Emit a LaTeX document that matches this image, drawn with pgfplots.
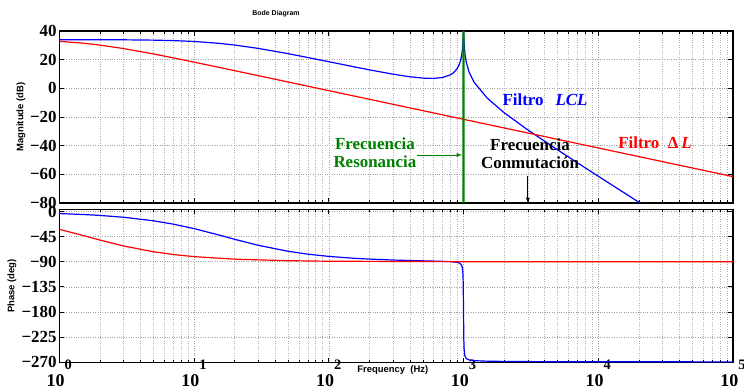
\documentclass[border=0pt]{standalone}
\usepackage{pgfplots}
\usepackage{pgfplotstable}
\pgfplotsset{compat=1.18}
\usepackage{fontspec}
\setmainfont{Liberation Serif}
\newfontfamily\lsans{Liberation Sans}
\definecolor{mgreen}{rgb}{0,0.5,0}

\pgfplotstableread{
f mag phase
1 33.96 -3.36
1.5 33.95 -5.04
2 33.92 -6.70
3 33.85 -10.00
5 33.62 -16.37
7 33.30 -22.36
10 32.69 -30.43
15 31.48 -41.38
20 30.21 -49.62
30 27.85 -60.45
50 24.17 -71.22
70 21.49 -76.37
100 18.57 -80.39
150 15.22 -83.60
200 12.90 -85.24
300 9.86 -86.91
400 8.07 -87.80
500 7.12 -88.38
600 6.91 -88.83
700 7.55 -89.28
800 9.41 -89.86
850 11.15 -90.35
900 13.94 -91.23
930 16.61 -92.31
950 19.25 -93.72
970 23.37 -96.96
980 26.66 -100.94
990 32.05 -112.11
995 36.38 -129.76
1000 40.00 -180.00
1005 36.09 -228.97
1010 31.67 -246.04
1020 26.07 -256.96
1030 22.54 -260.88
1050 17.92 -264.10
1100 11.31 -266.56
1200 4.14 -267.86
1500 -6.86 -268.76
2000 -16.97 -269.19
3000 -29.01 -269.49
5000 -42.98 -269.70
7000 -51.93 -269.79
10000 -61.31 -269.85
15000 -71.93 -269.90
20000 -79.44 -269.93
30000 -90.02 -269.95
100000 -121.40 -269.99
}\lcldata

\pgfplotstableread{
f mag phase
1 32.80 -31.68
1.5 31.51 -42.80
2 30.18 -50.99
3 27.74 -61.63
5 23.98 -72.05
7 21.26 -76.97
10 18.28 -80.80
20 12.34 -85.37
50 4.41 -88.14
100 -1.61 -89.07
1000 -21.61 -89.91
10000 -41.61 -89.99
100000 -61.61 -90.00
}\dldata

\begin{document}
\begin{tikzpicture}
\useasboundingbox (0,0) rectangle (744bp,391bp);
\node[font=\lsans\bfseries\fontsize{7}{8}\selectfont] at (276bp,377bp) {Bode Diagram};

\begin{axis}[
  xmode=log, scale only axis, width=673.7bp, height=172bp,
  xmin=1, xmax=100000, anchor=south west, at={(59.3bp,188bp)},
  axis line style={line width=1.3pt},
  tick align=inside,
  xtick={1,10,100,1000,10000,100000},
  grid=both,
  major grid style={dotted, gray!75, line width=0.5pt},
  minor grid style={dotted, gray!60, line width=0.5pt},
  major tick length=5bp, minor tick length=3bp,
  tick style={black, line width=0.6pt},
  yticklabel style={font=\fontsize{17}{17}\selectfont\bfseries, anchor=east, inner sep=0pt, xshift=-2.5bp},
  ymin=-80, ymax=40, ytick={-80,-60,-40,-20,0,20,40},
  yticklabels={−80,−60,−40,−20,0,20,40},
  xticklabels={},
  ylabel={Magnitude (dB)},
  ylabel style={font=\lsans\bfseries\fontsize{9.5}{10}\selectfont, at={(axis description cs:-0.0568,0.5)}, anchor=center},
  no markers,
]
\addplot[blue, line width=1.2pt] table[x=f, y=mag] {\lcldata};
\addplot[red, line width=1.2pt] table[x=f, y=mag] {\dldata};
\addplot[draw=none, fill=mgreen, forget plot] coordinates {(981,-80) (1019,-80) (1019,40) (981,40)} \closedcycle;
\node[blue, font=\fontsize{17}{18.5}\selectfont\bfseries] at (axis cs:4027,-8.1) {Filtro\hspace{0.7em}\textit{LCL}};
\node[red, font=\fontsize{17}{18.5}\selectfont\bfseries] at (axis cs:26370,-38.1) {Filtro\hspace{0.5em}Δ\,\textit{L}};
\node[mgreen, font=\fontsize{17}{18.5}\selectfont\bfseries, align=center] at (axis cs:220,-45.1) {Frecuencia\\Resonancia};
\node[black, font=\fontsize{17}{18.5}\selectfont\bfseries, align=center] at (axis cs:3115,-45.8) {Frecuencia\\Conmutación};
\draw[mgreen, line width=0.9pt, -latex] (axis cs:452,-46.5) -- (axis cs:975,-46.5);
\draw[black, line width=0.9pt, -latex] (axis cs:3000,-61.5) -- (axis cs:3000,-80);
\end{axis}

\begin{axis}[
  xmode=log, scale only axis, width=673.7bp, height=153.4bp,
  xmin=1, xmax=100000, anchor=south west, at={(59.3bp,28.3bp)},
  axis line style={line width=1.3pt},
  tick align=inside,
  xtick={1,10,100,1000,10000,100000},
  grid=both,
  major grid style={dotted, gray!75, line width=0.5pt},
  minor grid style={dotted, gray!60, line width=0.5pt},
  major tick length=5bp, minor tick length=3bp,
  tick style={black, line width=0.6pt},
  yticklabel style={font=\fontsize{17}{17}\selectfont\bfseries, anchor=east, inner sep=0pt, xshift=-2.5bp},
  ymin=-271.5, ymax=4.3, ytick={0,-45,-90,-135,-180,-225,-270},
  yticklabels={0,−45,−90,−135,−180,−225,−270},
  xticklabels={
    10\raisebox{0.95em}{\fontsize{14.5}{14.5}\selectfont 0},
    10\raisebox{0.95em}{\fontsize{14.5}{14.5}\selectfont 1},
    10\raisebox{0.95em}{\fontsize{14.5}{14.5}\selectfont 2},
    10\raisebox{0.95em}{\fontsize{14.5}{14.5}\selectfont 3},
    10\raisebox{0.95em}{\fontsize{14.5}{14.5}\selectfont 4},
    10\raisebox{0.95em}{\fontsize{14.5}{14.5}\selectfont 5}},
  xticklabel style={font=\fontsize{18}{18}\selectfont\bfseries, anchor=north, inner sep=0pt, yshift=3bp},
  ylabel={Phase (deg)},
  ylabel style={font=\lsans\bfseries\fontsize{9.5}{10}\selectfont, at={(axis description cs:-0.0702,0.5)}, anchor=center},
  xlabel={Frequency\ \ (Hz)},
  xlabel style={font=\lsans\bfseries\fontsize{9.5}{10}\selectfont, at={(axis description cs:0.495,0)}, anchor=center, yshift=-7.5bp},
  no markers,
]
\addplot[blue, line width=1.2pt] table[x=f, y=phase] {\lcldata};
\addplot[red, line width=1.2pt] table[x=f, y=phase] {\dldata};
\end{axis}
\end{tikzpicture}
\end{document}
